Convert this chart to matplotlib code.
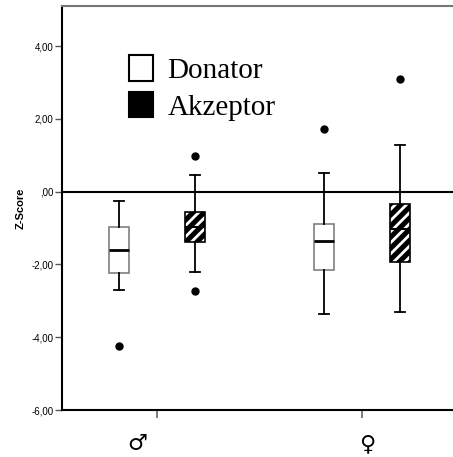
import matplotlib
matplotlib.use("Agg")
import matplotlib.pyplot as plt
import matplotlib.patches as mpatches

# summary statistics per sex (Z-scores)
groups = ["♂", "♀"]

donator_whislo = [-2.70, -3.37]
donator_q1 = [-2.23, -2.14]
donator_med = [-1.61, -1.37]
donator_q3 = [-0.97, -0.90]
donator_whishi = [-0.27, 0.50]
donator_fliers = [[-4.24], [1.72]]

akzeptor_whislo = [-2.20, -3.32]
akzeptor_q1 = [-1.38, -1.93]
akzeptor_med = [-0.97, -1.04]
akzeptor_q3 = [-0.56, -0.34]
akzeptor_whishi = [0.45, 1.27]
akzeptor_fliers = [[0.97, -2.74], [3.10]]

yticks = [4, 2, 0, -2, -4, -6]
ytick_labels = ["4,00", "2,00", ",00", "-2,00", "-4,00", "-6,00"]


def make_stats(lo, q1, med, q3, hi, fl):
    return [dict(whislo=a, q1=b, med=c, q3=d, whishi=e, fliers=f)
            for a, b, c, d, e, f in zip(lo, q1, med, q3, hi, fl)]


plt.rcParams["font.family"] = ["Liberation Sans", "DejaVu Sans"]
plt.rcParams["hatch.linewidth"] = 2.0

fig = plt.figure(figsize=(4.53, 4.57), dpi=100)
ax = fig.add_axes([62 / 453, 1 - 410 / 457, 1 - 62 / 453, 404 / 457])

off = 0.185
bw = 0.095
cw = 0.05
pos = [0, 1]

flierprops = dict(marker="o", markerfacecolor="black", markeredgecolor="black",
                  markersize=5)
whisk = dict(color="black", lw=1.3)

don = ax.bxp(make_stats(donator_whislo, donator_q1, donator_med, donator_q3,
                        donator_whishi, donator_fliers),
             positions=[p - off for p in pos], widths=bw, capwidths=cw,
             patch_artist=True,
             boxprops=dict(facecolor="white", edgecolor="#808080", lw=1.2),
             medianprops=dict(color="black", lw=2),
             whiskerprops=whisk, capprops=whisk, flierprops=flierprops,
             zorder=3)

akz = ax.bxp(make_stats(akzeptor_whislo, akzeptor_q1, akzeptor_med,
                        akzeptor_q3, akzeptor_whishi, akzeptor_fliers),
             positions=[p + off for p in pos], widths=bw, capwidths=cw,
             patch_artist=True,
             boxprops=dict(facecolor="black", edgecolor="white", lw=0.0,
                           hatch="///"),
             medianprops=dict(color="black", lw=1.5),
             whiskerprops=whisk, capprops=whisk, flierprops=flierprops,
             zorder=3)
# black outline over the white-hatched boxes
for b in akz["boxes"]:
    ax.add_patch(mpatches.PathPatch(b.get_path(), fill=False,
                                    edgecolor="black", lw=1.2, zorder=3.5))

ax.axhline(0, color="black", lw=1.5, zorder=2)

ax.set_xlim(-0.463, 1.444)
ax.set_ylim(-6, 5.1)

ax.set_yticks(yticks)
ax.set_yticklabels(ytick_labels, fontsize=7)
ax.tick_params(axis="y", length=5, width=1, pad=1, color="#555555")
ax.set_xticks(pos)
ax.set_xticklabels(["", ""])
ax.tick_params(axis="x", length=6, width=1.2, color="#666666")

# sex symbols under the categories
sym_x = [-0.098, 1.024]
for x, g in zip(sym_x, groups):
    ax.text(x, -0.085, g, transform=ax.get_xaxis_transform(), ha="center",
            va="center", fontsize=16, family=["DejaVu Sans"])

ax.set_ylabel("Z-Score", fontsize=8, fontweight="bold", labelpad=4)

ax.spines["right"].set_visible(False)
ax.spines["top"].set_color("#777777")
ax.spines["top"].set_linewidth(1.5)
ax.spines["left"].set_linewidth(1.5)
ax.spines["bottom"].set_linewidth(1.5)

handles = [mpatches.Patch(facecolor="white", edgecolor="black", lw=1.5),
           mpatches.Patch(facecolor="black", edgecolor="black", lw=1.5)]
ax.legend(handles, ["Donator", "Akzeptor"], loc="upper left",
          bbox_to_anchor=(0.171, 0.878), frameon=False, borderpad=0,
          borderaxespad=0, handlelength=0.82, handleheight=0.96,
          handletextpad=0.5, labelspacing=0.27,
          prop=dict(family="Liberation Serif", size=21))

fig.savefig("out.png", dpi=100)
